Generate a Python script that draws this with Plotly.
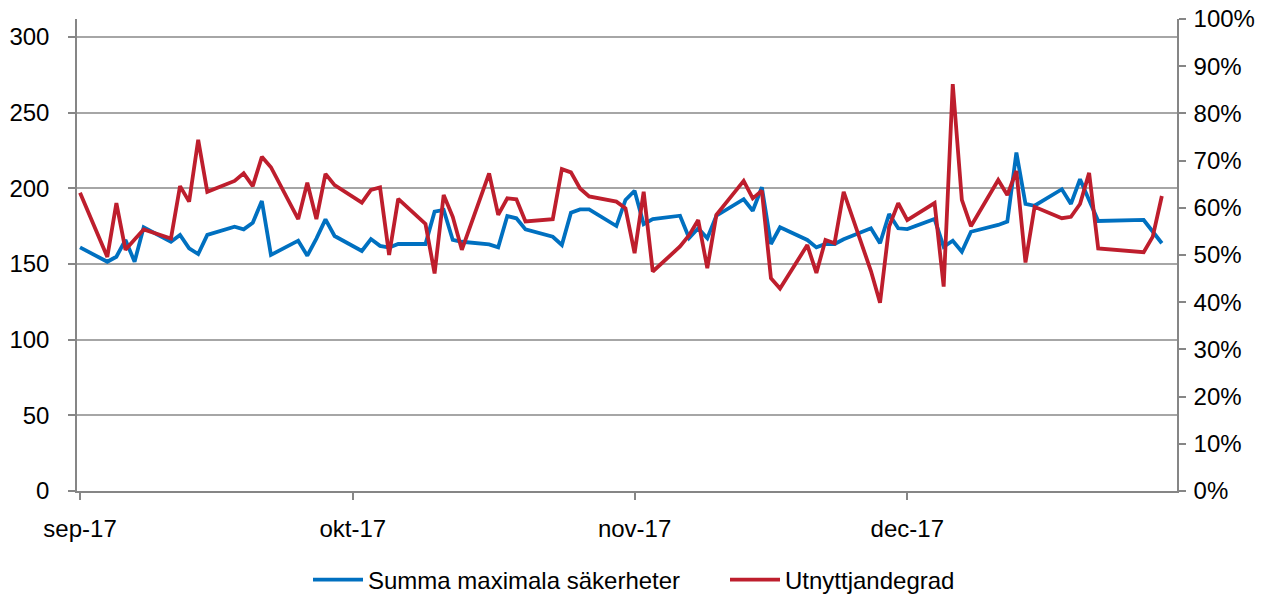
import plotly.graph_objects as go

dates = [
    "2017-09-01", "2017-09-04", "2017-09-05", "2017-09-06", "2017-09-07", "2017-09-08",
    "2017-09-11", "2017-09-12", "2017-09-13", "2017-09-14", "2017-09-15",
    "2017-09-18", "2017-09-19", "2017-09-20", "2017-09-21", "2017-09-22",
    "2017-09-25", "2017-09-26", "2017-09-27", "2017-09-28", "2017-09-29",
    "2017-10-02", "2017-10-03", "2017-10-04", "2017-10-05", "2017-10-06",
    "2017-10-09", "2017-10-10", "2017-10-11", "2017-10-12", "2017-10-13",
    "2017-10-16", "2017-10-17", "2017-10-18", "2017-10-19", "2017-10-20",
    "2017-10-23", "2017-10-24", "2017-10-25", "2017-10-26", "2017-10-27",
    "2017-10-30", "2017-10-31", "2017-11-01", "2017-11-02", "2017-11-03",
    "2017-11-06", "2017-11-07", "2017-11-08", "2017-11-09", "2017-11-10",
    "2017-11-13", "2017-11-14", "2017-11-15", "2017-11-16", "2017-11-17",
    "2017-11-20", "2017-11-21", "2017-11-22", "2017-11-23", "2017-11-24",
    "2017-11-27", "2017-11-28", "2017-11-29", "2017-11-30", "2017-12-01",
    "2017-12-04", "2017-12-05", "2017-12-06", "2017-12-07", "2017-12-08",
    "2017-12-11", "2017-12-12", "2017-12-13", "2017-12-14", "2017-12-15",
    "2017-12-18", "2017-12-19", "2017-12-20", "2017-12-21", "2017-12-22",
    "2017-12-27", "2017-12-28", "2017-12-29",
]

summa_maximala = [
    161.0, 151.5, 154.8, 165.9, 151.5, 174.3,
    164.7, 169.2, 160.4, 156.6, 169.2,
    174.6, 172.9, 177.3, 191.6, 156.0,
    165.4, 155.5, 166.8, 179.5, 168.5,
    158.6, 166.5, 162.0, 160.9, 163.2,
    163.2, 184.6, 185.7, 165.9, 164.7,
    163.0, 161.0, 181.7, 180.2, 172.9,
    168.0, 162.6, 183.9, 186.1, 186.1,
    175.1, 192.3, 198.4, 176.4, 179.7,
    181.9, 167.2, 173.6, 167.0, 181.9,
    192.8, 185.2, 200.7, 163.2, 174.3,
    165.9, 161.0, 163.2, 163.2, 166.3,
    173.6, 163.7, 183.0, 173.6, 173.1,
    179.7, 161.4, 165.4, 158.1, 171.3,
    175.8, 178.0, 223.6, 189.7, 188.5,
    199.4, 189.7, 206.0, 192.0, 178.4,
    179.1, 171.8, 163.7,
]

utnyttjandegrad_pct = [
    63.2, 49.6, 61.0, 51.1, 53.3, 55.4,
    53.5, 64.6, 61.3, 74.4, 63.4,
    65.7, 67.3, 64.6, 70.8, 68.6,
    57.6, 65.3, 57.6, 67.2, 64.8,
    61.1, 63.8, 64.3, 50.0, 61.9,
    56.6, 46.1, 62.7, 58.1, 51.1,
    67.3, 58.5, 62.0, 61.8, 57.1,
    57.6, 68.2, 67.5, 64.1, 62.4,
    61.3, 59.9, 50.4, 63.4, 46.5,
    51.8, 54.2, 57.4, 47.2, 58.5,
    65.7, 62.0, 63.6, 45.1, 42.9,
    52.1, 46.2, 53.2, 52.5, 63.4,
    46.6, 39.9, 56.0, 61.0, 57.4,
    61.0, 43.3, 86.2, 61.7, 56.1,
    65.9, 62.7, 67.8, 48.4, 60.2,
    57.8, 58.1, 60.8, 67.4, 51.4,
    50.6, 53.9, 62.5,
]

month_ticks = ["2017-09-01", "2017-10-01", "2017-11-01", "2017-12-01"]
month_labels = ["sep-17", "okt-17", "nov-17", "dec-17"]
left_ticks = [0, 50, 100, 150, 200, 250, 300]
right_ticks = [i / 10 for i in range(11)]

series_names = ["Summa maximala säkerheter", "Utnyttjandegrad"]

BLUE = "#0070C0"
RED = "#BE1E2D"
AXIS = "#868686"
GRID = "#A6A6A6"
FONT = "Liberation Sans"
FS = 24

# page body has an 8px default margin, so the figure is drawn 8px in
W, H = 1257, 586

utnyttjandegrad = [v / 100 for v in utnyttjandegrad_pct]

fig = go.Figure()
fig.add_trace(go.Scatter(
    x=dates, y=summa_maximala, name=series_names[0], mode="lines",
    line=dict(color=BLUE, width=3.8), yaxis="y",
))
fig.add_trace(go.Scatter(
    x=dates, y=utnyttjandegrad, name=series_names[1], mode="lines",
    line=dict(color=RED, width=3.8), yaxis="y2",
))

fig.update_layout(
    width=W, height=H,
    margin=dict(l=69, r=88, t=11, b=103, autoexpand=False),
    paper_bgcolor="white", plot_bgcolor="white",
    font=dict(family=FONT, size=FS, color="#000000"),
    showlegend=True,
    legend=dict(
        orientation="h", x=0.21, xanchor="left",
        yref="container", y=1 - 572 / H, yanchor="middle",
        font=dict(family=FONT, size=FS, color="#000000"),
        itemwidth=50, tracegroupgap=0,
        entrywidth=352, entrywidthmode="pixels",
    ),
    xaxis=dict(
        type="date", automargin=False,
        range=["2017-08-31 16:00", "2017-12-30 16:00"],
        tickmode="array", tickvals=month_ticks, ticktext=month_labels,
        showgrid=False, zeroline=False,
        showline=True, linecolor=AXIS, linewidth=1.5,
        ticks="outside", ticklen=7, tickcolor=AXIS, tickwidth=1.5,
        ticklabelstandoff=8,
    ),
    yaxis=dict(
        automargin=False,
        range=[0, 300 * 472 / 454],
        tickmode="array", tickvals=left_ticks,
        showgrid=True, gridcolor=GRID, gridwidth=1.5,
        zeroline=False,
        showline=True, linecolor=AXIS, linewidth=1.5,
        ticks="outside", ticklen=7, tickcolor=AXIS, tickwidth=1.5,
        ticklabelstandoff=14, ticklabeloverflow="allow",
    ),
    yaxis2=dict(
        automargin=False,
        range=[0, 1], overlaying="y", side="right",
        tickmode="array", tickvals=right_ticks, tickformat=".0%",
        showgrid=False, zeroline=False,
        showline=True, linecolor=AXIS, linewidth=1.5,
        ticks="outside", ticklen=7, tickcolor=AXIS, tickwidth=1.5,
        ticklabelstandoff=3, ticklabeloverflow="allow",
    ),
)

fig.write_html("out.html")
